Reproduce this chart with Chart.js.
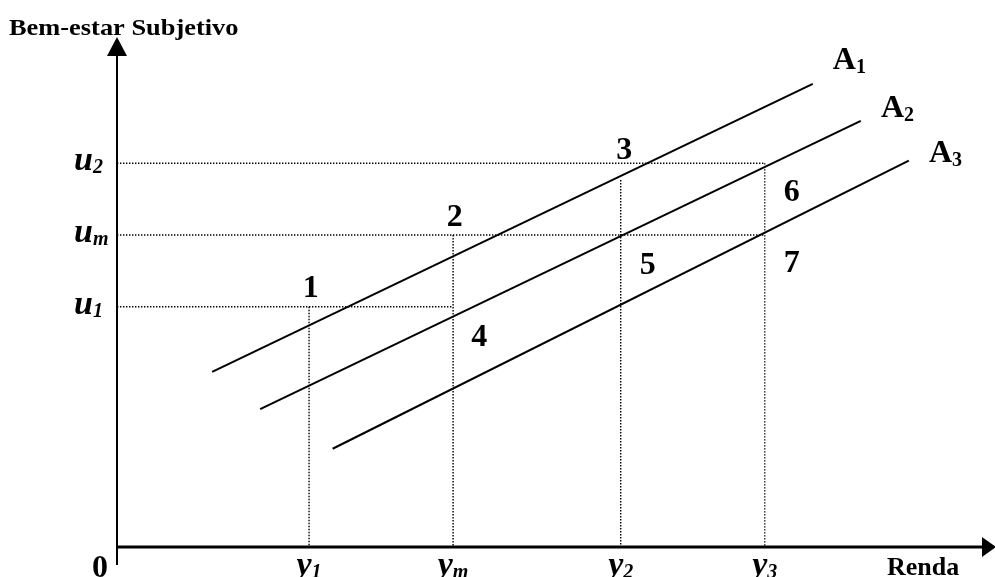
<!DOCTYPE html>
<html>
<head>
<meta charset="utf-8">
<script src="https://cdn.jsdelivr.net/npm/chart.js@4.4.0/dist/chart.umd.min.js"></script>
<style>
  html, body { margin: 0; padding: 0; background: #fff; }
  canvas { display: block; }
</style>
</head>
<body>
<canvas id="chart" width="995" height="577"></canvas>
<script>
// income levels marked on the horizontal axis (y1, ym, y2, y3)
const incomeTicks = [22.0, 38.5, 57.7, 74.2];
const incomeSubs = ['1', 'm', '2', '3'];
// well-being levels marked on the vertical axis (u1, um, u2)
const utilityTicks = [47.2, 61.3, 75.4];
const utilitySubs = ['1', 'm', '2'];

// the three aspiration lines A1, A2, A3: start and end points
const lineSubs = ['1', '2', '3'];
const lineX = [[10.9, 79.7], [16.4, 85.2], [24.7, 90.7]];
const lineY = [[34.4, 91.0], [27.1, 83.7], [19.3, 75.9]];
// where each line's name sits (left edge, baseline)
const lineLabelX = [82.0, 87.5, 93.0];
const lineLabelY = [93.9, 84.5, 75.6];

// the dotted drop from y2 starts just under A1
const y2Top = 72.1;

// numbered points
const pointNames = ['1', '2', '3', '4', '5', '6', '7'];
const pointX = [22.2, 38.7, 58.1, 41.5, 60.8, 77.3, 77.3];
const pointY = [51.3, 65.2, 78.4, 41.7, 55.8, 70.1, 56.2];

const [y1, ym, y2, y3] = incomeTicks;
const [u1, um, u2] = utilityTicks;

const dotted = pts => ({
  data: pts.map(p => ({ x: p[0], y: p[1] })),
  showLine: true,
  borderColor: '#000',
  borderWidth: 1.4,
  borderDash: [1.4, 1.6],
  pointRadius: 0
});

const datasets = [
  dotted([[0, u1], [ym, u1]]),
  dotted([[y1, u1], [y1, 0]]),
  dotted([[0, um], [y3, um]]),
  dotted([[ym, um], [ym, 0]]),
  dotted([[0, u2], [y3, u2]]),
  dotted([[y3, u2], [y3, 0]]),
  dotted([[y2, y2Top], [y2, 0]])
];
lineX.forEach((xs, i) => {
  datasets.push({
    data: xs.map((x, j) => ({ x: x, y: lineY[i][j] })),
    showLine: true,
    borderColor: '#000',
    borderWidth: 2,
    pointRadius: 0
  });
});

const serif = "'Liberation Serif', 'Times New Roman', serif";

function subText(ctx, main, sub, x, y, mainFont, subFont, align, drop) {
  ctx.font = mainFont;
  const w1 = ctx.measureText(main).width;
  ctx.font = subFont;
  const w2 = ctx.measureText(sub).width;
  const x0 = align === 'center' ? x - (w1 + w2) / 2 : x;
  ctx.textAlign = 'left';
  ctx.textBaseline = 'alphabetic';
  ctx.font = mainFont;
  ctx.fillText(main, x0, y);
  ctx.font = subFont;
  ctx.fillText(sub, x0 + w1, y + drop);
}

const decor = {
  id: 'decor',
  afterDatasetsDraw(chart) {
    const ctx = chart.ctx;
    const xs = chart.scales.x, ys = chart.scales.y;
    const ox = xs.getPixelForValue(0), oy = ys.getPixelForValue(0);
    const top = chart.chartArea.top, right = chart.chartArea.right;
    ctx.save();
    ctx.fillStyle = '#000';
    ctx.strokeStyle = '#000';

    // vertical axis + arrow
    ctx.lineWidth = 2;
    ctx.beginPath();
    ctx.moveTo(ox, top + 16);
    ctx.lineTo(ox, oy + 18);
    ctx.stroke();
    ctx.beginPath();
    ctx.moveTo(ox, top - 1);
    ctx.lineTo(ox - 10, top + 18);
    ctx.lineTo(ox + 10, top + 18);
    ctx.closePath();
    ctx.fill();

    // horizontal axis + arrow
    ctx.lineWidth = 3;
    ctx.beginPath();
    ctx.moveTo(ox, oy);
    ctx.lineTo(right - 6, oy);
    ctx.stroke();
    ctx.beginPath();
    ctx.moveTo(right + 6, oy);
    ctx.lineTo(right - 8, oy - 10);
    ctx.lineTo(right - 8, oy + 10);
    ctx.closePath();
    ctx.fill();

    // axis titles
    ctx.font = 'bold 24px ' + serif;
    ctx.textAlign = 'left';
    ctx.textBaseline = 'alphabetic';
    ctx.save();
    ctx.translate(9, 35);
    ctx.scale(1.1, 1);
    ctx.fillText('Bem-estar Subjetivo', 0, 0);
    ctx.restore();
    ctx.font = 'bold 26px ' + serif;
    ctx.fillText('Renda', 887, 575);
    ctx.font = 'bold 32px ' + serif;
    ctx.textAlign = 'right';
    ctx.fillText('0', ox - 9, 577);

    const mainIt = 'bold italic 34px ' + serif;
    const subIt = 'bold italic 20px ' + serif;
    // income tick labels
    incomeTicks.forEach((v, i) => {
      subText(ctx, 'y', incomeSubs[i], xs.getPixelForValue(v), 575, mainIt, subIt, 'center', 3);
    });
    // well-being tick labels
    utilityTicks.forEach((v, i) => {
      subText(ctx, 'u', utilitySubs[i], 74, ys.getPixelForValue(v) + 7, mainIt, subIt, 'left', 3);
    });

    // line names
    lineSubs.forEach((s, i) => {
      subText(ctx, 'A', s, xs.getPixelForValue(lineLabelX[i]), ys.getPixelForValue(lineLabelY[i]),
        'bold 32px ' + serif, 'bold 20px ' + serif, 'left', 4);
    });

    // numbered points
    ctx.font = 'bold 32px ' + serif;
    ctx.textAlign = 'center';
    ctx.textBaseline = 'alphabetic';
    pointNames.forEach((n, i) => {
      ctx.fillText(n, xs.getPixelForValue(pointX[i]), ys.getPixelForValue(pointY[i]) + 11);
    });
    ctx.restore();
  }
};

new Chart(document.getElementById('chart'), {
  type: 'scatter',
  data: { datasets: datasets },
  options: {
    responsive: false,
    animation: false,
    layout: { padding: { left: 117, right: 5, top: 38, bottom: 30 } },
    plugins: { legend: { display: false }, tooltip: { enabled: false } },
    scales: {
      x: { type: 'linear', min: 0, max: 100, display: false },
      y: { type: 'linear', min: 0, max: 100, display: false }
    }
  },
  plugins: [decor]
});
</script>
</body>
</html>
